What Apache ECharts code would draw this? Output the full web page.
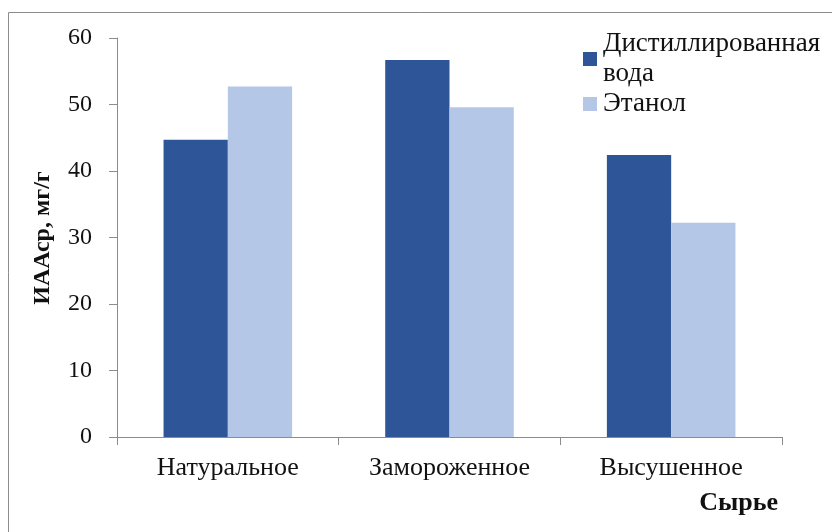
<!DOCTYPE html>
<html>
<head>
<meta charset="utf-8">
<script src="https://cdn.jsdelivr.net/npm/echarts@6/dist/echarts.min.js"></script>
<style>
html,body{margin:0;padding:0;background:#fff;}
#chart{width:832px;height:532px;}
</style>
</head>
<body>
<div id="chart"></div>
<script>
const categories = ['Натуральное', 'Замороженное', 'Высушенное'];
const waterValues = [44.7, 56.7, 42.4];
const ethanolValues = [52.7, 49.6, 32.2];
const seriesNames = ['Дистиллированная вода', 'Этанол'];
const yTicks = [0, 10, 20, 30, 40, 50, 60];

const FONT = '"Liberation Serif", "DejaVu Serif", serif';
const chart = echarts.init(document.getElementById('chart'));

chart.setOption({
  animation: false,
  backgroundColor: '#fff',
  grid: { left: 117, right: 50, top: 38, bottom: 95 },
  legend: {
    orient: 'vertical',
    left: 578,
    top: 24,
    itemWidth: 14,
    itemHeight: 14,
    itemGap: 0,
    icon: 'rect',
    data: seriesNames,
    formatter: name => name.replace(' ', '\n'),
    textStyle: { fontFamily: FONT, fontSize: 27, color: '#111', lineHeight: 30, padding: [0, 0, 0, 1] }
  },
  xAxis: {
    type: 'category',
    data: categories,
    axisLine: { lineStyle: { color: '#8c8c8c', width: 1 } },
    axisTick: { show: true, length: 8, lineStyle: { color: '#8c8c8c' } },
    axisLabel: { fontFamily: FONT, fontSize: 26, color: '#111', margin: 18 }
  },
  yAxis: {
    type: 'value',
    min: yTicks[0],
    max: yTicks[yTicks.length - 1],
    interval: 10,
    axisLine: { show: true, lineStyle: { color: '#8c8c8c', width: 1 } },
    axisTick: { show: true, length: 8, lineStyle: { color: '#8c8c8c' } },
    splitLine: { show: false },
    axisLabel: { fontFamily: FONT, fontSize: 24, color: '#111', margin: 25 }
  },
  series: [
    {
      name: seriesNames[0],
      type: 'bar',
      data: waterValues,
      barGap: '0%',
      barCategoryGap: '42%',
      itemStyle: { color: '#2E5597' }
    },
    {
      name: seriesNames[1],
      type: 'bar',
      data: ethanolValues,
      itemStyle: { color: '#B4C7E7' }
    }
  ],
  graphic: [
    {
      type: 'rect',
      shape: { x: 8.5, y: 12.5, width: 900, height: 600 },
      style: { fill: 'none', stroke: '#8c8c8c', lineWidth: 1 },
      silent: true
    },
    {
      type: 'text',
      x: 43,
      y: 238,
      rotation: Math.PI / 2,
      style: {
        text: 'ИААср, мг/г',
        font: 'bold 24px ' + FONT,
        fill: '#111',
        align: 'center',
        verticalAlign: 'middle'
      }
    },
    {
      type: 'text',
      x: 778,
      y: 503,
      style: {
        text: 'Сырье',
        font: 'bold 26px ' + FONT,
        fill: '#111',
        align: 'right',
        verticalAlign: 'middle'
      }
    }
  ]
});
</script>
</body>
</html>
